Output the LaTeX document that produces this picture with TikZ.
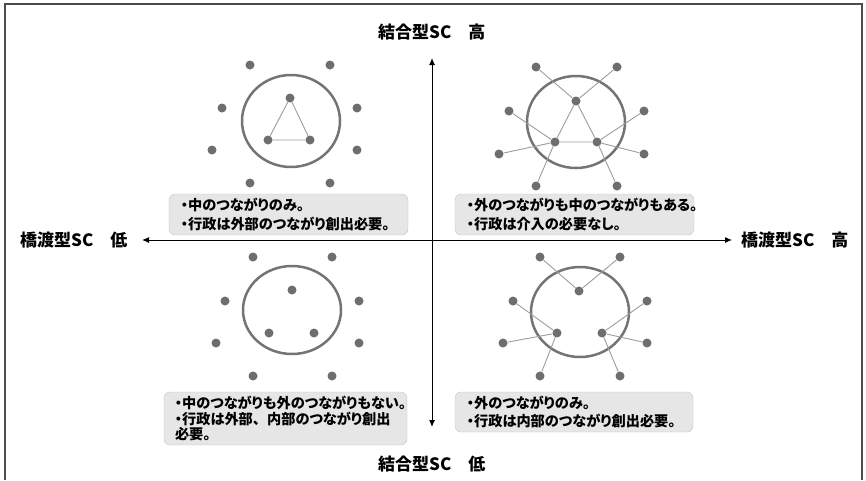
\documentclass[tikz,border=0pt]{standalone}
\usepackage{fontspec}
\setmainfont{Noto Sans CJK JP}
\newfontfamily\notefont[RawFeature=+palt]{Noto Sans CJK JP}
\usetikzlibrary{arrows.meta}
\definecolor{dotgray}{HTML}{6E6E6E}
\definecolor{ringgray}{HTML}{747474}
\definecolor{linkgray}{HTML}{9C9C9C}
\definecolor{boxfill}{HTML}{E6E6E6}
\definecolor{boxline}{HTML}{C4C4C4}
\tikzset{
	dot/.style={circle,fill=dotgray,inner sep=0pt,minimum size=9pt},
	ring/.style={draw=ringgray,line width=2.5pt},
	link/.style={draw=linkgray,line width=0.9pt},
	note/.style={draw=boxline,fill=boxfill,rounded corners=6pt,align=left,inner xsep=12pt,inner ysep=0pt,font=\notefont\fontsize{14.2}{18.5}\selectfont\bfseries},
	axislabel/.style={font=\fontsize{17}{17}\selectfont\bfseries,anchor=west,inner sep=0pt},
	axis/.style={line width=1pt,{Latex[length=7pt,width=6pt]}-{Latex[length=7pt,width=6pt]}}
}
\begin{document}
\begin{tikzpicture}[x=1pt,y=-1pt]
			\useasboundingbox (0,0) rectangle (866,480);
			% Frame
			\draw[line width=1.5pt,black!70] (5,480) -- (5,4) -- (862,4) -- (862,480);
			% Axes
			\coordinate (top) at (432,58);
			\coordinate (bottom) at (432,427);
			\coordinate (left) at (142,240);
			\coordinate (right) at (732,240);
			\draw[axis] (top) -- (bottom);
			\draw[axis] (left) -- (right);
			\node[axislabel] (lbltop) at (378,32) {結合型SC　高};
			\node[axislabel] (lblbottom) at (378,464) {結合型SC　低};
			\node[axislabel] (lblleft) at (20,240) {橋渡型SC　低};
			\node[axislabel] (lblright) at (741,240) {橋渡型SC　高};
			% Top left: inside only
			\draw[ring] (291,121) ellipse [x radius=49,y radius=46];
			\node[dot] (tlo1) at (250,65) {};
			\node[dot] (tlo2) at (330,65) {};
			\node[dot] (tlo3) at (222,108) {};
			\node[dot] (tlo4) at (357,108) {};
			\node[dot] (tlo5) at (212,150) {};
			\node[dot] (tlo6) at (357,150) {};
			\node[dot] (tlo7) at (250,183) {};
			\node[dot] (tlo8) at (330,183) {};
			\node[dot] (tli1) at (290,98) {};
			\node[dot] (tli2) at (268,140) {};
			\node[dot] (tli3) at (310,140) {};
			\draw[link] (tli1) -- (tli2) -- (tli3) -- (tli1);
			\node[note,text width=215pt,minimum height=41pt] (tlnote) at (288.5,214.5) {・中のつながりのみ。\\・行政は外部のつながり創出必要。};
			% Top right: inside and outside
			\draw[ring] (576,122) ellipse [x radius=49,y radius=46];
			\node[dot] (tro1) at (536,67) {};
			\node[dot] (tro2) at (617,67) {};
			\node[dot] (tro3) at (509,111) {};
			\node[dot] (tro4) at (644,111) {};
			\node[dot] (tro5) at (499,154) {};
			\node[dot] (tro6) at (644,154) {};
			\node[dot] (tro7) at (536,186) {};
			\node[dot] (tro8) at (617,186) {};
			\node[dot] (tri1) at (576,101) {};
			\node[dot] (tri2) at (555,142) {};
			\node[dot] (tri3) at (597,142) {};
			\draw[link] (tri1) -- (tri2) -- (tri3) -- (tri1);
			\draw[link] (tri1) -- (tro1);
			\draw[link] (tri1) -- (tro2);
			\draw[link] (tri2) -- (tro3);
			\draw[link] (tri2) -- (tro5);
			\draw[link] (tri2) -- (tro7);
			\draw[link] (tri3) -- (tro4);
			\draw[link] (tri3) -- (tro6);
			\draw[link] (tri3) -- (tro8);
			\node[note,text width=215pt,minimum height=41pt] (trnote) at (574.5,214.5) {・外のつながりも中のつながりもある。\\・行政は介入の必要なし。};
			% Bottom left: none
			\draw[ring] (292,310) ellipse [x radius=49,y radius=44];
			\node[dot] (blo1) at (253,257) {};
			\node[dot] (blo2) at (332,257) {};
			\node[dot] (blo3) at (225,301) {};
			\node[dot] (blo4) at (359,301) {};
			\node[dot] (blo5) at (216,343) {};
			\node[dot] (blo6) at (359,343) {};
			\node[dot] (blo7) at (253,376) {};
			\node[dot] (blo8) at (332,376) {};
			\node[dot] (bli1) at (292,290) {};
			\node[dot] (bli2) at (269,333) {};
			\node[dot] (bli3) at (314,333) {};
			\node[note,text width=221pt,inner xsep=11pt,minimum height=53pt,font=\notefont\fontsize{14.2}{15.5}\selectfont\bfseries] (blnote) at (285.5,418.5) {・中のつながりも外のつながりもない。\\・行政は外部{\normalfont\bfseries 、}内部のつながり創出\\必要。};
			% Bottom right: outside only
			\draw[ring] (580,312) ellipse [x radius=49,y radius=45];
			\node[dot] (bro1) at (540,257) {};
			\node[dot] (bro2) at (620,257) {};
			\node[dot] (bro3) at (513,301) {};
			\node[dot] (bro4) at (647,301) {};
			\node[dot] (bro5) at (503,343) {};
			\node[dot] (bro6) at (647,343) {};
			\node[dot] (bro7) at (540,376) {};
			\node[dot] (bro8) at (620,376) {};
			\node[dot] (bri1) at (579,291) {};
			\node[dot] (bri2) at (557,333) {};
			\node[dot] (bri3) at (602,333) {};
			\draw[link] (bri1) -- (bro1);
			\draw[link] (bri1) -- (bro2);
			\draw[link] (bri2) -- (bro3);
			\draw[link] (bri2) -- (bro5);
			\draw[link] (bri2) -- (bro7);
			\draw[link] (bri3) -- (bro4);
			\draw[link] (bri3) -- (bro6);
			\draw[link] (bri3) -- (bro8);
			\node[note,text width=214pt,minimum height=40pt] (brnote) at (574,412) {・外のつながりのみ。\\・行政は内部のつながり創出必要。};
		\end{tikzpicture}
\end{document}
